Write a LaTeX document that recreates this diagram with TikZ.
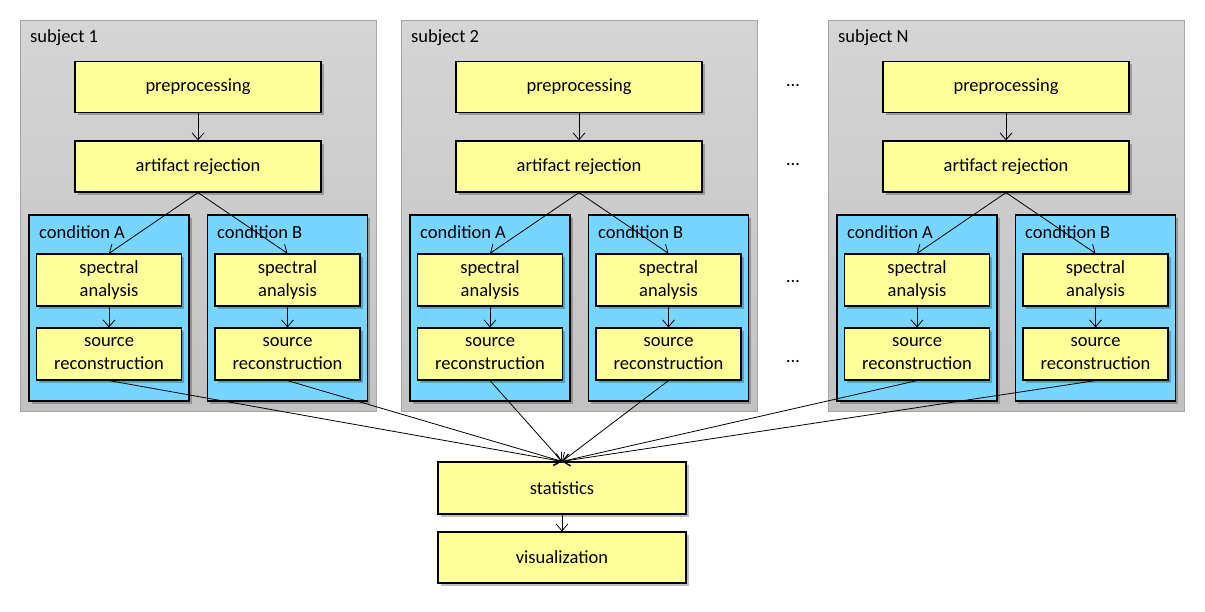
\documentclass[tikz,border=0pt]{standalone}
\usepackage{fontspec}
\setmainfont{Carlito}
\usepackage{tikz}
\usetikzlibrary{arrows.meta,positioning,shadows}
\definecolor{subjtop}{RGB}{213,213,213}
\definecolor{subjbottom}{RGB}{194,194,194}
\definecolor{subjline}{RGB}{165,165,165}
\definecolor{condcol}{RGB}{118,214,255}
\definecolor{stepcol}{RGB}{255,255,153}
\newcommand\boxfont{\fontsize{18.5}{23}\selectfont}
\tikzset{
  subject box/.style={draw=subjline,line width=1pt,top color=subjtop,bottom color=subjbottom,inner sep=0pt,minimum width=356pt,minimum height=391pt},
  cond box/.style={draw,line width=1.2pt,fill=condcol,inner sep=0pt,minimum width=160pt,minimum height=186pt,
    drop shadow={shadow xshift=2.5pt,shadow yshift=-2.5pt,fill=black,opacity=0.25}},
  proc/.style={draw,line width=1.2pt,fill=stepcol,inner sep=2pt,align=center,font=\boxfont,
    drop shadow={shadow xshift=2.5pt,shadow yshift=-2.5pt,fill=black,opacity=0.25}},
  wide proc/.style={proc,minimum width=246pt,minimum height=51pt},
  small proc/.style={proc,minimum width=145pt,minimum height=52pt},
  box label/.style={anchor=west,font=\boxfont,inner sep=0pt},
  flow/.style={-{Straight Barb[length=7pt,width=12pt]},line width=0.8pt}
}

\begin{document}
\begin{tikzpicture}[x=1pt,y=-1pt]
  \useasboundingbox (0,0) rectangle (1205,611);
  % one column per subject
  \foreach \s/\dx/\lbl in {1/0/1, 2/381/2, 3/808/N}{
  \begin{scope}[xshift=\dx]
  \node[subject box] (sub\s) at (198,215.5) {};
  \node[box label] (subl\s) at (30,38) {subject \lbl};
  \node[wide proc] (pre\s) at (198,87) {preprocessing};
  \node[wide proc] (art\s) at (198,166.5) {artifact rejection};
  \node[cond box] (cA\s) at (109,308) {};
  \node[cond box] (cB\s) at (287.5,308) {};
  \node[box label] (cAl\s) at (39,232) {condition A};
  \node[box label] (cBl\s) at (217,232) {condition B};
  \node[small proc] (specA\s) at (109,280) {spectral\\analysis};
  \node[small proc] (srcA\s) at (109,354) {source\\reconstruction};
  \node[small proc] (specB\s) at (287.5,280) {spectral\\analysis};
  \node[small proc] (srcB\s) at (287.5,354) {source\\reconstruction};
  \draw[flow] (pre\s) -- (art\s);
  \draw[flow] (art\s.south) -- (specA\s.north);
  \draw[flow] (art\s.south) -- (specB\s.north);
  \draw[flow] (specA\s) -- (srcA\s);
  \draw[flow] (specB\s) -- (srcB\s);
  \end{scope}
  }
  \foreach \i/\y in {1/86, 2/165, 3/282, 4/362}{\node[font=\boxfont] (dots\i) at (793,\y) {\dots};}
  % group level
  \node[wide proc,minimum width=248pt,minimum height=52pt] (stat) at (562,488) {statistics};
  \node[wide proc,minimum width=248pt] (vis) at (562,557.5) {visualization};
  \foreach \s in {1,2,3}{
    \draw[flow] (srcA\s.south) -- (stat.north);
    \draw[flow] (srcB\s.south) -- (stat.north);
  }
  \draw[flow] (stat) -- (vis);
\end{tikzpicture}
\end{document}
